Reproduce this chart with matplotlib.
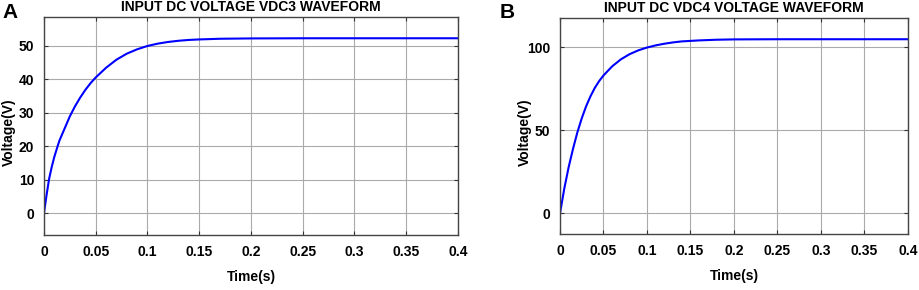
import matplotlib
matplotlib.use("Agg")
import matplotlib.pyplot as plt

# values
t_a = [0, 0.0025, 0.005, 0.0075, 0.01, 0.0132, 0.015, 0.02, 0.025, 0.03,
       0.035, 0.04, 0.045, 0.05, 0.06, 0.07, 0.08, 0.09, 0.1, 0.11,
       0.12, 0.13, 0.14, 0.15, 0.17, 0.2, 0.25, 0.3, 0.35, 0.4]
v_a = [0, 5.4, 10.3, 13.8, 16.8, 20.0, 21.7, 25.3, 28.9, 31.9,
       34.5, 36.8, 38.8, 40.5, 43.4, 45.8, 47.6, 48.9, 49.9, 50.6,
       51.1, 51.45, 51.7, 51.85, 52.05, 52.15, 52.2, 52.2, 52.2, 52.2]

t_b = [0, 0.005, 0.01, 0.015, 0.02, 0.025, 0.03, 0.035, 0.04, 0.045,
       0.05, 0.06, 0.07, 0.08, 0.09, 0.1, 0.11, 0.12, 0.13, 0.14,
       0.16, 0.18, 0.2, 0.25, 0.3, 0.35, 0.4]
v_b = [0, 15.1, 27.9, 38.9, 48.8, 57.2, 64.4, 70.4, 75.5, 79.6,
       83.0, 88.5, 92.7, 95.8, 98.1, 99.8, 101.1, 102.1, 102.9, 103.5,
       104.1, 104.5, 104.7, 104.8, 104.8, 104.8, 104.8]

xticks = [0, 0.05, 0.1, 0.15, 0.2, 0.25, 0.3, 0.35, 0.4]
xticklabels = ["0", "0.05", "0.1", "0.15", "0.2", "0.25", "0.3", "0.35", "0.4"]
yticks_a = [0, 10, 20, 30, 40, 50]
yticks_b = [0, 50, 100]

plt.rcParams["font.family"] = ["Liberation Sans", "DejaVu Sans"]
plt.rcParams["font.weight"] = "bold"

fig = plt.figure(figsize=(9.2, 2.9), dpi=100)
ax_a = fig.add_axes([0.0478, 0.19, 0.45, 0.752])
ax_b = fig.add_axes([0.6087, 0.193, 0.3782, 0.745])

panels = [
    (ax_a, t_a, v_a, yticks_a, (-6.5, 58.6), "INPUT DC VOLTAGE VDC3 WAVEFORM", -0.068),
    (ax_b, t_b, v_b, yticks_b, (-12.5, 117.6), "INPUT DC VDC4 VOLTAGE WAVEFORM", -0.08),
]

for ax, t, v, yt, ylim, title, ylab_x in panels:
    ax.plot(t, v, color="#0000ff", lw=1.5)
    ax.set_xlim(0, 0.4)
    ax.set_ylim(*ylim)
    ax.set_xticks(xticks)
    ax.set_xticklabels(xticklabels)
    ax.set_yticks(yt)
    ax.grid(True, color="#aaaaaa", lw=0.8)
    ax.tick_params(direction="in", top=True, right=True, length=3,
                   labelsize=10, colors="#333333", labelcolor="black", pad=7)
    for s in ax.spines.values():
        s.set_color("#444444")
        s.set_linewidth(1.0)
    ax.set_title(title, fontsize=10, fontweight="bold", pad=4)
    ax.set_xlabel("Time(s)", fontsize=10, fontweight="bold", labelpad=8)
    ax.set_ylabel("Voltage(V)", fontsize=10, fontweight="bold")
    ax.yaxis.set_label_coords(ylab_x, 0.47)

fig.text(0.003, 0.99, "A", fontsize=15, fontweight="bold", va="top")
fig.text(0.543, 0.99, "B", fontsize=15, fontweight="bold", va="top")

fig.savefig("out.png", dpi=100)
